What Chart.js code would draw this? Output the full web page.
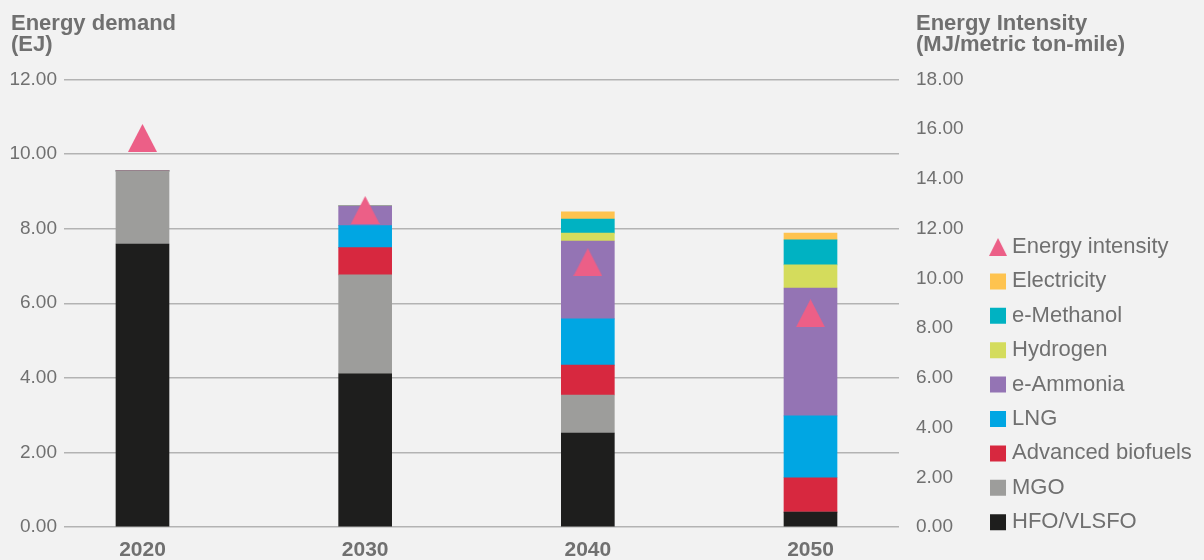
<!DOCTYPE html>
<html>
<head>
<meta charset="utf-8">
<script src="https://cdn.jsdelivr.net/npm/chart.js@4.4.1/dist/chart.umd.min.js"></script>
<style>
  html, body { margin: 0; padding: 0; background: #f2f2f2; }
  #wrap { position: relative; width: 1204px; height: 560px; }
</style>
</head>
<body>
<div id="wrap"><canvas id="c"></canvas></div>
<script>
// Shipping energy demand by fuel (EJ) and fleet energy intensity
const years = [2020, 2030, 2040, 2050];
const hfoVlsfo   = [7.59, 4.11, 2.52, 0.40];
const mgo        = [1.96, 2.65, 1.02, 0.00];
const biofuels   = [0.00, 0.73, 0.80, 0.92];
const lng        = [0.00, 0.59, 1.24, 1.66];
const eAmmonia   = [0.00, 0.53, 2.09, 3.43];
const hydrogen   = [0.00, 0.00, 0.21, 0.62];
const eMethanol  = [0.00, 0.00, 0.38, 0.67];
const electricity= [0.00, 0.00, 0.19, 0.18];
const intensity  = [15.65, 12.75, 10.65, 8.60];

const fuelNames = ['HFO/VLSFO', 'MGO', 'Advanced biofuels', 'LNG', 'e-Ammonia', 'Hydrogen', 'e-Methanol', 'Electricity'];
const fuelValues = [hfoVlsfo, mgo, biofuels, lng, eAmmonia, hydrogen, eMethanol, electricity];
const fuelColors = ['#1e1e1d', '#9d9d9b', '#d7283f', '#00a6e3', '#9474b4', '#d4dc5c', '#00b2c2', '#fec34f'];
const intensityName = 'Energy intensity';
const intensityColor = '#ec5f87';

const leftTitle = ['Energy demand', '(EJ)'];
const rightTitle = ['Energy Intensity', '(MJ/metric ton-mile)'];

const textGrey = '#707070';
const FONT = "'Liberation Sans', Arial, Helvetica, sans-serif";
Chart.defaults.font.family = FONT;

// Triangle marker images (chart marker and smaller legend marker)
function triangle(w, h, color) {
  const c = document.createElement('canvas');
  c.width = w; c.height = h;
  const g = c.getContext('2d');
  g.fillStyle = color;
  g.beginPath();
  g.moveTo(w / 2, 0);
  g.lineTo(w, h);
  g.lineTo(0, h);
  g.closePath();
  g.fill();
  return c;
}
const markerTri = triangle(29, 28, intensityColor);
const legendTri = triangle(18, 18, intensityColor);

const datasets = fuelNames.map((name, i) => ({
  type: 'bar',
  label: name,
  data: years.map((y, k) => ({ x: y, y: fuelValues[i][k] })),
  backgroundColor: fuelColors[i],
  borderWidth: 0,
  barThickness: 53,
  pointStyle: 'rect',
  yAxisID: 'y',
  order: 2
}));
datasets.push({
  type: 'line',
  label: intensityName,
  data: years.map((y, k) => ({ x: y, y: intensity[k] })),
  showLine: false,
  pointStyle: markerTri,
  pointRadius: 14,
  pointHoverRadius: 14,
  backgroundColor: intensityColor,
  borderColor: intensityColor,
  yAxisID: 'y1',
  order: 1
});

// Two-line axis headings above each value axis
const axisHeadings = {
  id: 'axisHeadings',
  afterDraw(chart) {
    const ctx = chart.ctx;
    ctx.save();
    ctx.fillStyle = textGrey;
    ctx.font = 'bold 22px ' + FONT;
    ctx.textAlign = 'left';
    ctx.textBaseline = 'alphabetic';
    const lx = chart.scales.y.left + 11;
    const rx = chart.scales.y1.left + 17;
    leftTitle.forEach((t, i) => ctx.fillText(t, lx, 30 + i * 21));
    rightTitle.forEach((t, i) => ctx.fillText(t, rx, 30 + i * 21));
    ctx.restore();
  }
};

// Keep the legend column clear of the year labels
const legendLift = {
  id: 'legendLift',
  afterLayout(chart) {
    if (chart.legend) chart.legend.bottom -= 14.4;
  }
};

new Chart(document.getElementById('c'), {
  data: { datasets },
  options: {
    responsive: true,
    maintainAspectRatio: false,
    animation: false,
    layout: { padding: { top: 79.5, right: 2.2, bottom: 0, left: 0 } },
    scales: {
      x: {
        type: 'linear',
        stacked: true,
        offset: false,
        min: 2016.475,
        max: 2053.975,
        afterBuildTicks(s) { s.ticks = years.map(v => ({ value: v })); },
        ticks: {
          callback: v => String(v),
          color: textGrey,
          font: { size: 21, weight: 'bold' },
          padding: 11,
          maxRotation: 0,
          autoSkip: false
        },
        grid: { display: false, drawTicks: false },
        border: { display: false },
        afterFit(s) { s.height = 33; }
      },
      y: {
        position: 'left',
        stacked: true,
        min: 0,
        max: 12,
        ticks: {
          stepSize: 2,
          callback: v => v.toFixed(2),
          color: textGrey,
          font: { size: 19 },
          padding: 7
        },
        grid: { color: '#b3b3b3', lineWidth: 1.5, drawTicks: false },
        border: { display: false },
        afterFit(s) { s.width = 64; }
      },
      y1: {
        position: 'right',
        min: 0,
        max: 18,
        ticks: {
          stepSize: 2,
          callback: v => v.toFixed(2),
          color: textGrey,
          font: { size: 19 },
          padding: 17
        },
        grid: { display: false, drawTicks: false },
        border: { display: false },
        afterFit(s) { s.width = 83.6; }
      }
    },
    plugins: {
      tooltip: { enabled: false },
      legend: {
        position: 'right',
        align: 'end',
        maxWidth: 240,
        labels: {
          usePointStyle: true,
          boxWidth: 6,
          boxHeight: 16,
          padding: 12.4,
          color: textGrey,
          font: { size: 22 },
          generateLabels(chart) {
            const items = Chart.defaults.plugins.legend.labels.generateLabels(chart);
            items.forEach(it => {
              const ds = chart.data.datasets[it.datasetIndex];
              it.lineWidth = 0;
              it.pointStyle = ds.type === 'line' ? legendTri : 'rect';
            });
            return items;
          },
          sort(a, b) {
            const key = it => (it.pointStyle === 'rect' ? -it.datasetIndex : -100);
            return key(a) - key(b);
          }
        }
      }
    }
  },
  plugins: [axisHeadings, legendLift]
});
</script>
</body>
</html>
